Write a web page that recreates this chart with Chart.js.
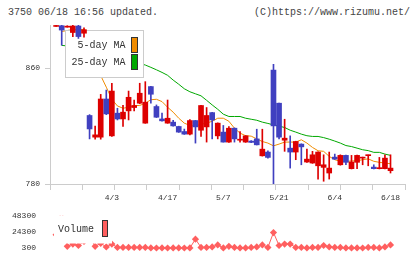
<!DOCTYPE html>
<html><head><meta charset="utf-8">
<script src="https://cdn.jsdelivr.net/npm/chart.js@4/dist/chart.umd.min.js"></script>
<style>
html,body{margin:0;padding:0;background:#fff;width:420px;height:259px;overflow:hidden}
#wrap{position:relative;width:420px;height:259px}
.t{position:absolute;font:10px 'Liberation Mono',monospace;color:#444;white-space:pre;line-height:12px}
canvas{position:absolute;left:0}
</style></head><body>
<div id="wrap">
<div class="t" style="left:8px;top:7px">3750 06/18 16:56 updated.</div>
<div class="t" style="right:10px;top:7px">(C)https://www.rizumu.net/</div>
<canvas id="main" width="420" height="205" style="top:0"></canvas>
<canvas id="vol" width="420" height="54" style="top:205px"></canvas>
</div>
<script>
// ---- data ----
const open  = [889, 889.5, 888.5, 884.8, 889.3, 884.3, 827.4, 812.4, 812.4, 838.8, 813.3, 829, 825, 830.6, 832.9, 835.9, 822.1, 847.4, 833.6, 825, 822.1, 822.8, 819.8, 816.3, 814.5, 823.9, 817.2, 819.5, 829.4, 813.3, 815.9, 809, 818.6, 810.3, 809, 809.7, 811.2, 799.5, 802.1, 858.8, 835.9, 810.3, 804.8, 802.1, 807.6, 795.2, 794.5, 792.6, 791.5, 787.6, 798.6, 793.3, 799.8, 790.6, 795, 797.9, 799.6, 791.7, 790.6, 790.6, 789.2];
const close = [889, 886.5, 889, 889.3, 882, 886.7, 818.1, 814, 838.8, 828.5, 844.3, 825, 829.7, 840, 834.3, 842.8, 836.6, 842.1, 826.2, 823.7, 825.5, 820.2, 815.9, 814.5, 823.9, 819.5, 834.3, 827.4, 824.3, 822.1, 809, 818.6, 811.2, 811, 813.3, 808.8, 807.1, 804.1, 798.4, 820.2, 812.4, 811.7, 802.1, 809.4, 805.7, 797.2, 800.2, 802.1, 793.3, 791, 797.2, 799.8, 795, 795.2, 799.8, 798.4, 799.8, 790.6, 791, 797.9, 791];
const high  = [890, 890, 889.5, 890, 890, 888, 828, 820, 842, 845, 849.7, 832.4, 834.5, 844.3, 838.1, 849.7, 850.8, 847.6, 834.7, 829, 838.1, 824, 820, 818, 824.5, 824, 834.5, 832.9, 829.6, 822.3, 820.5, 819.8, 818.8, 816.3, 813.5, 810, 817.9, 817.9, 803, 862.8, 836, 824.8, 813.3, 809.6, 807.8, 804.1, 802.6, 802.3, 800.2, 802.1, 800.7, 800.2, 800, 799.8, 800, 798.6, 800, 793.3, 798.4, 800.2, 800.2];
const low   = [889, 876, 888.5, 882, 880.7, 881.6, 811.2, 811, 811, 828, 813, 824.3, 819.8, 824.3, 830.6, 835.5, 822, 835.9, 826, 823.5, 822, 820, 815.7, 814.3, 814, 808.3, 812.9, 809, 811.2, 811.2, 809, 808.8, 809, 809, 808.8, 808.6, 807, 799.3, 797.9, 780, 811.2, 802.6, 791, 796.8, 793.3, 795, 794.3, 783.4, 781.9, 783.4, 797, 793, 793.3, 790.4, 790.6, 793.3, 792.6, 790.4, 790.4, 790.4, 787.6];
const ma5   = [null, 885.5, 886.2, 886.9, 886.9, 886.9, 885.5, 872, 855, 847, 838.6, 834, 832.4, 833.1, 834.3, 834.3, 835.9, 838.3, 838.6, 837, 833.1, 829.7, 825.5, 822.1, 820.5, 820, 821.4, 822.1, 823.4, 825.5, 825.5, 823.4, 818.6, 815.2, 813.4, 813.1, 811.2, 809.4, 808.3, 806.4, 807.6, 809, 809, 809, 810.6, 808.3, 805.3, 803, 802.6, 799.1, 796.8, 795.7, 795.7, 795.9, 796.1, 796.8, 797.4, 795.7, 795, 794.5, 794];
const ma25  = [null, 875.9, 875.5, 875, 874.5, 874, 873, 872, 871, 870, 869, 868, 867, 866, 865, 863.5, 862.3, 860.7, 859, 857.2, 855.2, 851.9, 849, 845.9, 843.8, 842.4, 841, 837.9, 834.7, 831.7, 828.3, 826.7, 826.7, 826.7, 825.5, 824.8, 824.1, 822.8, 821.9, 820.9, 820, 819.1, 817.2, 815.9, 814.5, 813.4, 812.9, 812.9, 812.1, 811, 809.7, 808.3, 806.6, 805.9, 804.8, 803.7, 803.1, 801.9, 801.9, 800.7, 799.8];
const volume = [20000, 60000, 2760, 6090, 4000, 10150, 16700, 2760, 7300, 1900, 6090, 1160, 1160, 1160, 1160, 1160, 1160, 400, 300, 400, 300, 400, 400, 300, 400, 13500, 1160, 1160, 1900, 4850, 400, 2760, 1160, 400, 400, 1160, 1900, 4850, 1160, 23300, 4000, 6090, 6090, 1160, 1160, 400, 1160, 1160, 4000, 1900, 1160, 1160, 400, 400, 400, 300, 1160, 1160, 400, 1900, 4850];
const tickLabels = ['4/3', '4/17', '5/7', '5/21', '6/4', '6/18'];
const tickAt = [10, 20, 30, 40, 50, 60];
const priceTicks = [780, 860];
const volumeTicks = [300, 24300, 48300];
const maNames = ['5-day MA', '25-day MA'];
const volumeName = 'Volume';

// ---- styling ----
const FONT = 'Liberation Mono';
const UP = '#dd0000', DOWN = '#4040c0';
const C5 = '#f08c00', C25 = '#00a800', CV = '#ff5f5f';
const X_MIN = -1.1, X_MAX = 62.6;
const idx = open.map((_, i) => i);
const candleColor = idx.map(i => close[i] >= open[i] ? UP : DOWN);
const gridVals = Array.from({length: 12}, (_, k) => X_MIN + k * (X_MAX - X_MIN) / 11);

const mainLegend = {
  id: 'mainLegend',
  beforeDatasetDraw(chart, args) {
    if (chart.data.datasets[args.index].label !== 'wick') return;
    const c = chart.ctx, a = chart.chartArea;
    const L = Math.round(a.left) + 15.5, T = Math.round(a.top) + 5.5;
    c.save();
    c.fillStyle = '#fff'; c.fillRect(L, T, 78, 47);
    c.strokeStyle = '#cccccc'; c.lineWidth = 1; c.strokeRect(L, T, 78, 47);
    c.font = '10px "' + FONT + '"'; c.textAlign = 'right'; c.textBaseline = 'middle';
    [C5, C25].forEach((col, k) => {
      c.fillStyle = '#333'; c.fillText(maNames[k], L + 60, T + 15 + k * 17);
      c.fillStyle = col; c.fillRect(L + 66, T + 7 + k * 17, 6, 15);
      c.strokeStyle = '#333'; c.strokeRect(L + 66, T + 7 + k * 17, 6, 15);
    });
    c.restore();
  }
};

new Chart(document.getElementById('main'), {
  type: 'bar',
  data: { datasets: [
    {type: 'line', label: maNames[0], data: idx.map(i => ({x: i, y: ma5[i]})), borderColor: C5, borderWidth: 1, pointRadius: 0, order: 4},
    {type: 'line', label: maNames[1], data: idx.map(i => ({x: i, y: ma25[i]})), borderColor: C25, borderWidth: 1, pointRadius: 0, order: 3},
    {label: 'wick', data: idx.map(i => ({x: i, y: [low[i], high[i]]})), backgroundColor: candleColor, barThickness: 1, grouped: false, order: 2},
    {label: 'body', data: idx.map(i => ({x: i, y: [open[i], close[i]]})), backgroundColor: candleColor, barThickness: 5, minBarLength: 1, grouped: false, order: 1}
  ]},
  options: {
    responsive: false, animation: false, devicePixelRatio: 1,
    layout: {padding: {top: 25, right: 15, left: 0, bottom: 0}},
    plugins: {legend: {display: false}, tooltip: {enabled: false}},
    scales: {
      x: {
        type: 'linear', min: X_MIN, max: X_MAX, offset: false,
        afterBuildTicks: s => { s.ticks = gridVals.concat(tickAt).sort((a, b) => a - b).map(v => ({value: v})); },
        afterFit: s => { s.height = 21; },
        grid: {drawOnChartArea: false, offset: false, tickLength: 6, color: ctx => (ctx.tick && tickAt.includes(ctx.tick.value)) ? 'rgba(0,0,0,0)' : '#cccccc'},
        border: {color: '#cccccc'},
        ticks: {autoSkip: false, maxRotation: 0, padding: 3, font: {family: FONT, size: 8}, color: '#333',
          callback: v => { const k = tickAt.indexOf(v); return k >= 0 ? tickLabels[k] : ''; }}
      },
      y: {
        min: 780, max: 890,
        afterBuildTicks: s => { s.ticks = priceTicks.map(v => ({value: v})); },
        afterFit: s => { s.width = 50; },
        grid: {drawOnChartArea: false, tickLength: 5, color: '#cccccc'},
        border: {color: '#cccccc'},
        ticks: {padding: 5, font: {family: FONT, size: 8}, color: '#333', callback: v => String(v)}
      }
    }
  },
  plugins: [mainLegend]
});

const volLegend = {
  id: 'volLegend',
  afterDatasetsDraw(chart) {
    const c = chart.ctx, a = chart.chartArea;
    const L = Math.round(a.left) + 4, T = Math.round(a.top);
    c.save();
    c.fillStyle = '#fff'; c.fillRect(L, T, 58, 27.5);
    c.font = '10px "' + FONT + '"'; c.textAlign = 'left'; c.textBaseline = 'middle';
    c.fillStyle = '#333'; c.fillText(volumeName, L + 4, T + 13);
    c.fillStyle = CV; c.fillRect(L + 48.5, T + 4.5, 5, 16);
    c.strokeStyle = '#333'; c.lineWidth = 1; c.strokeRect(L + 48.5, T + 4.5, 5, 16);
    c.restore();
  }
};

new Chart(document.getElementById('vol'), {
  type: 'line',
  data: { datasets: [
    {label: volumeName, data: idx.map(i => ({x: i, y: volume[i]})), borderColor: CV, backgroundColor: CV, borderWidth: 1,
     pointStyle: 'rectRot', pointRadius: 3.6, pointBorderWidth: 0, clip: {left: 6, right: 6, top: 0, bottom: 8}}
  ]},
  options: {
    responsive: false, animation: false, devicePixelRatio: 1,
    layout: {padding: {top: 4, right: 15, left: 0, bottom: 11}},
    plugins: {legend: {display: false}, tooltip: {enabled: false}},
    scales: {
      x: {type: 'linear', min: X_MIN, max: X_MAX, offset: false, display: false},
      y: {
        min: 300, max: 48300,
        afterBuildTicks: s => { s.ticks = volumeTicks.map(v => ({value: v})); },
        afterFit: s => { s.width = 50; },
        grid: {display: false}, border: {display: false},
        ticks: {padding: 6, font: {family: FONT, size: 8}, color: '#333', callback: v => String(v)}
      }
    }
  },
  plugins: [volLegend]
});
</script>
</body></html>
